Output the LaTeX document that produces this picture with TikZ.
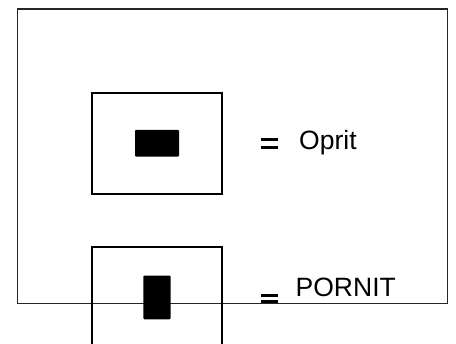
\documentclass[tikz,border=0pt]{standalone}
\usepackage{fontspec}
\setmainfont{Liberation Sans}
\begin{document}
\begin{tikzpicture}[x=1pt,y=-1pt,
  frame/.style={draw=black!85,line width=1.3pt},
  boxline/.style={draw=black,line width=2pt},
  blob/.style={fill=black,rounded corners=1pt},
  eqbar/.style={fill=black},
  lbl/.style={anchor=base west,inner sep=0pt,font=\fontsize{26.5}{30}\selectfont}]
\useasboundingbox[fill=white] (0,0) rectangle (456,344);
\clip (0,0) rectangle (456,344);
% outer frame
\draw[frame] (17.3,9) rectangle (447.5,303.3);
% first symbol
\draw[boxline] (92,93.5) rectangle (221.5,194);
\path[blob] (135,130) rectangle (179,156.7);
\path[eqbar] (261,137.7) rectangle (278.3,140.7);
\path[eqbar] (261,145.7) rectangle (278.3,149);
\node[lbl] (oprit) at (299,150) {Oprit};
% second symbol
\draw[boxline] (92,247.5) rectangle (221.5,360);
\path[blob] (143.3,275.7) rectangle (170.7,319.3);
\path[eqbar] (261,294) rectangle (278.3,297);
\path[eqbar] (261,300.3) rectangle (278.3,303);
\node[lbl] (pornit) at (295.5,296.7) {PORNIT};
\end{tikzpicture}
\end{document}
